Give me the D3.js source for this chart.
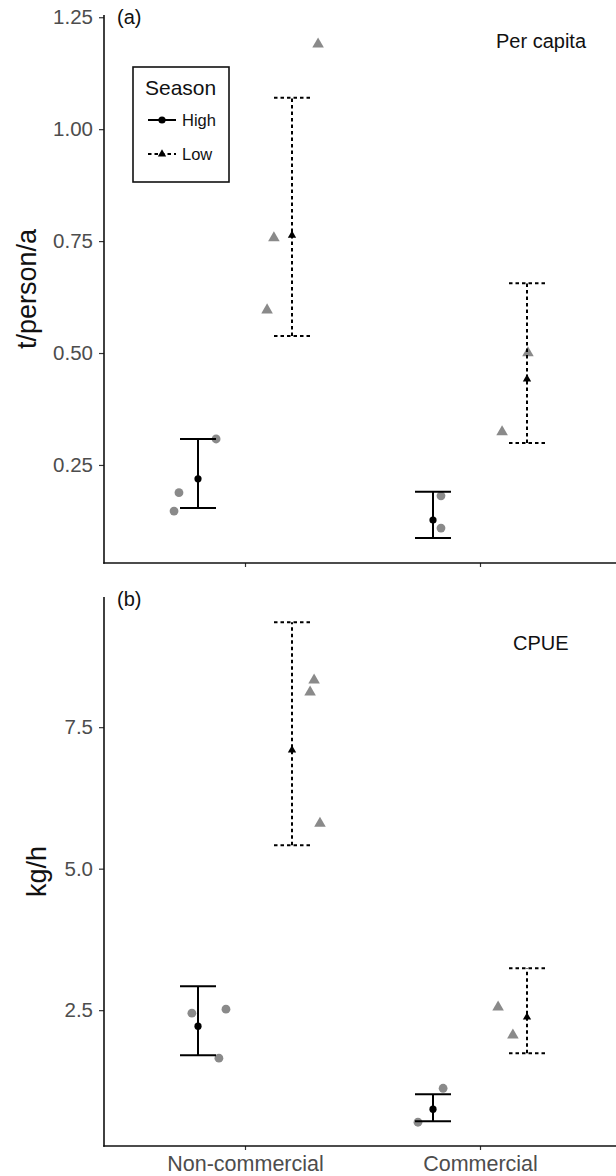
<!DOCTYPE html>
<html lang="en">
  <head>
      <meta charset="UTF-8">
      <style>
         body {
            background-color: #ffffff;
            margin: 0;
         }
         svg text {
            font-family: "Liberation Sans", Arial, sans-serif;
         }
      </style>
      <script src="https://d3js.org/d3.v7.min.js"></script>
   </head>
   <body>
      <div id="figure"></div>
      <script>
      ///data
         const groups = ["Non-commercial", "Commercial"];
         const seasons = ["High", "Low"];

         // summaries, one entry per group, order as groups
         const perCapitaHighMean = [0.219, 0.127];
         const perCapitaHighLo   = [0.154, 0.087];
         const perCapitaHighHi   = [0.308, 0.190];
         const perCapitaLowMean  = [0.763, 0.442];
         const perCapitaLowLo    = [0.538, 0.299];
         const perCapitaLowHi    = [1.070, 0.656];

         const cpueHighMean = [2.217, 0.751];
         const cpueHighLo   = [1.705, 0.539];
         const cpueHighHi   = [2.924, 1.016];
         const cpueLowMean  = [7.094, 2.376];
         const cpueLowLo    = [5.415, 1.740];
         const cpueLowHi    = [9.355, 3.242];

         // raw observations: [group, season, jitter (category units), value]
         const perCapitaRaw = [
            ["Non-commercial", "High", -0.123, 0.308],
            ["Non-commercial", "High", -0.281, 0.188],
            ["Non-commercial", "High", -0.302, 0.147],
            ["Non-commercial", "Low", 0.311, 1.190],
            ["Non-commercial", "Low", 0.123, 0.757],
            ["Non-commercial", "Low", 0.094, 0.596],
            ["Commercial", "High", -0.166, 0.181],
            ["Commercial", "High", -0.166, 0.109],
            ["Commercial", "Low", 0.204, 0.500],
            ["Commercial", "Low", 0.094, 0.324]
         ];
         const cpueRaw = [
            ["Non-commercial", "High", -0.226, 2.447],
            ["Non-commercial", "High", -0.081, 2.518],
            ["Non-commercial", "High", -0.111, 1.652],
            ["Non-commercial", "Low", 0.294, 8.33],
            ["Non-commercial", "Low", 0.277, 8.12],
            ["Non-commercial", "Low", 0.319, 5.80],
            ["Commercial", "High", -0.157, 1.12],
            ["Commercial", "High", -0.264, 0.52],
            ["Commercial", "Low", 0.077, 2.553],
            ["Commercial", "Low", 0.140, 2.06]
         ];

         const perCapitaTicks = [0.25, 0.50, 0.75, 1.00, 1.25];
         const cpueTicks = [2.5, 5.0, 7.5];

      ///drawing
         const W = 616, H = 1176;
         const svg = d3.select("#figure").append("svg")
            .attr("width", W).attr("height", H);

         const left = 104, right = 621;
         // discrete axis with ggplot-style 0.6 expansion each side
         const x = d3.scaleLinear().domain([-0.6, groups.length - 0.4]).range([left, right]);
         const dodge = {High: -0.2, Low: 0.2};
         const grey = "#8a8a8a";

         function summaryRows(means, los, his, season) {
            return groups.map((g, i) => ({g: g, s: season, m: means[i], lo: los[i], hi: his[i]}));
         }

         function panel(opt) {
            const y = d3.scaleLinear().domain(opt.domain).range([opt.bottom, opt.top]);
            const g = svg.append("g");

            // y axis
            const ya = g.append("g")
               .attr("transform", "translate(" + left + ",0)")
               .call(d3.axisLeft(y).tickValues(opt.ticks).tickFormat(opt.fmt).tickSize(5).tickPadding(6));
            ya.select(".domain").remove();
            ya.selectAll(".tick line").attr("stroke", "#333").attr("stroke-width", 1.2);
            ya.selectAll(".tick text").attr("fill", "#4d4d4d").style("font-size", "20.5px");

            // x axis
            const xa = g.append("g")
               .attr("transform", "translate(0," + opt.bottom + ")")
               .call(d3.axisBottom(x).tickValues(groups.map((d, i) => i))
                  .tickFormat(i => opt.xLabels ? groups[i] : "").tickSize(4).tickPadding(6));
            xa.select(".domain").remove();
            xa.selectAll(".tick line").attr("stroke", "#333").attr("stroke-width", 1.2);
            xa.selectAll(".tick text").attr("fill", "#4d4d4d").style("font-size", "21.5px");

            // axis lines
            g.append("line").attr("x1", left).attr("x2", left)
               .attr("y1", opt.top).attr("y2", opt.bottom + 0.8)
               .attr("stroke", "#111").attr("stroke-width", 1.6);
            g.append("line").attr("x1", left - 0.8).attr("x2", right)
               .attr("y1", opt.bottom).attr("y2", opt.bottom)
               .attr("stroke", "#111").attr("stroke-width", 1.6);

            // y title
            g.append("text")
               .attr("transform", "translate(" + opt.titleX + "," + ((opt.top + opt.bottom) / 2) + ") rotate(-90)")
               .attr("text-anchor", "middle").attr("dy", "0.35em")
               .style("font-size", "27px").attr("fill", "#111")
               .text(opt.title);

            // labels inside
            g.append("text").attr("x", left + 13).attr("y", y(opt.domain[1]) + 2).attr("dy", "0.35em")
               .style("font-size", "20px").attr("fill", "#111").text(opt.tag);
            g.append("text").attr("x", opt.noteX).attr("y", opt.noteY).attr("dy", "0.35em")
               .style("font-size", "20px").attr("fill", "#111").text(opt.note);

            const cx = d => x(groups.indexOf(d.g) + dodge[d.s]);

            // raw points
            const raw = opt.raw.map(r => ({g: r[0], s: r[1], j: r[2], v: r[3]}));
            raw.filter(d => d.s === "High").forEach(d => {
               g.append("circle")
                  .attr("cx", x(groups.indexOf(d.g) + d.j)).attr("cy", y(d.v))
                  .attr("r", 4.4).attr("fill", grey);
            });
            raw.filter(d => d.s === "Low").forEach(d => {
               g.append("path")
                  .attr("d", d3.symbol().type(d3.symbolTriangle).size(58)())
                  .attr("transform", "translate(" + x(groups.indexOf(d.g) + d.j) + "," + y(d.v) + ")")
                  .attr("fill", grey);
            });

            // error bars
            const capW = 18;
            opt.summary.forEach(d => {
               const dash = d.s === "Low" ? "3.5,3" : null;
               const xc = cx(d);
               g.append("line").attr("x1", xc).attr("x2", xc).attr("y1", y(d.lo)).attr("y2", y(d.hi))
                  .attr("stroke", "#000").attr("stroke-width", 2).attr("stroke-dasharray", dash);
               [d.lo, d.hi].forEach(v => {
                  g.append("line").attr("x1", xc - capW).attr("x2", xc + capW).attr("y1", y(v)).attr("y2", y(v))
                     .attr("stroke", "#000").attr("stroke-width", 2).attr("stroke-dasharray", dash);
               });
               if (d.s === "High") {
                  g.append("circle").attr("cx", xc).attr("cy", y(d.m)).attr("r", 3.6).attr("fill", "#000");
               } else {
                  g.append("path")
                     .attr("d", d3.symbol().type(d3.symbolTriangle).size(30)())
                     .attr("transform", "translate(" + xc + "," + y(d.m) + ")")
                     .attr("fill", "#000");
               }
            });
            return y;
         }

         panel({
            top: 15, bottom: 563, domain: [0.031, 1.255], ticks: perCapitaTicks,
            fmt: d3.format(".2f"), xLabels: false, title: "t/person/a", titleX: 27,
            tag: "(a)", note: "Per capita", noteX: 496, noteY: 41,
            raw: perCapitaRaw,
            summary: summaryRows(perCapitaHighMean, perCapitaHighLo, perCapitaHighHi, "High")
               .concat(summaryRows(perCapitaLowMean, perCapitaLowLo, perCapitaLowHi, "Low"))
         });

         panel({
            top: 597, bottom: 1146, domain: [0.1, 9.8], ticks: cpueTicks,
            fmt: d3.format(".1f"), xLabels: true, title: "kg/h", titleX: 37,
            tag: "(b)", note: "CPUE", noteX: 513, noteY: 643,
            raw: cpueRaw,
            summary: summaryRows(cpueHighMean, cpueHighLo, cpueHighHi, "High")
               .concat(summaryRows(cpueLowMean, cpueLowLo, cpueLowHi, "Low"))
         });

      ///legend
         const leg = svg.append("g").attr("transform", "translate(133,67)");
         leg.append("rect").attr("width", 96).attr("height", 115)
            .attr("fill", "#fff").attr("stroke", "#111").attr("stroke-width", 1.6);
         leg.append("text").attr("x", 12).attr("y", 21).attr("dy", "0.35em")
            .style("font-size", "21px").attr("fill", "#111").text("Season");
         seasons.forEach((s, i) => {
            const ry = 53 + i * 34;
            leg.append("line").attr("x1", 15).attr("x2", 43).attr("y1", ry).attr("y2", ry)
               .attr("stroke", "#000").attr("stroke-width", 2)
               .attr("stroke-dasharray", s === "Low" ? "3.5,3" : null);
            if (s === "High") {
               leg.append("circle").attr("cx", 29).attr("cy", ry).attr("r", 3.6).attr("fill", "#000");
            } else {
               leg.append("path").attr("d", d3.symbol().type(d3.symbolTriangle).size(30)())
                  .attr("transform", "translate(29," + ry + ")").attr("fill", "#000");
            }
            leg.append("text").attr("x", 49).attr("y", ry).attr("dy", "0.35em")
               .style("font-size", "16.5px").attr("fill", "#111").text(s);
         });
      </script>
   </body>
</html>
